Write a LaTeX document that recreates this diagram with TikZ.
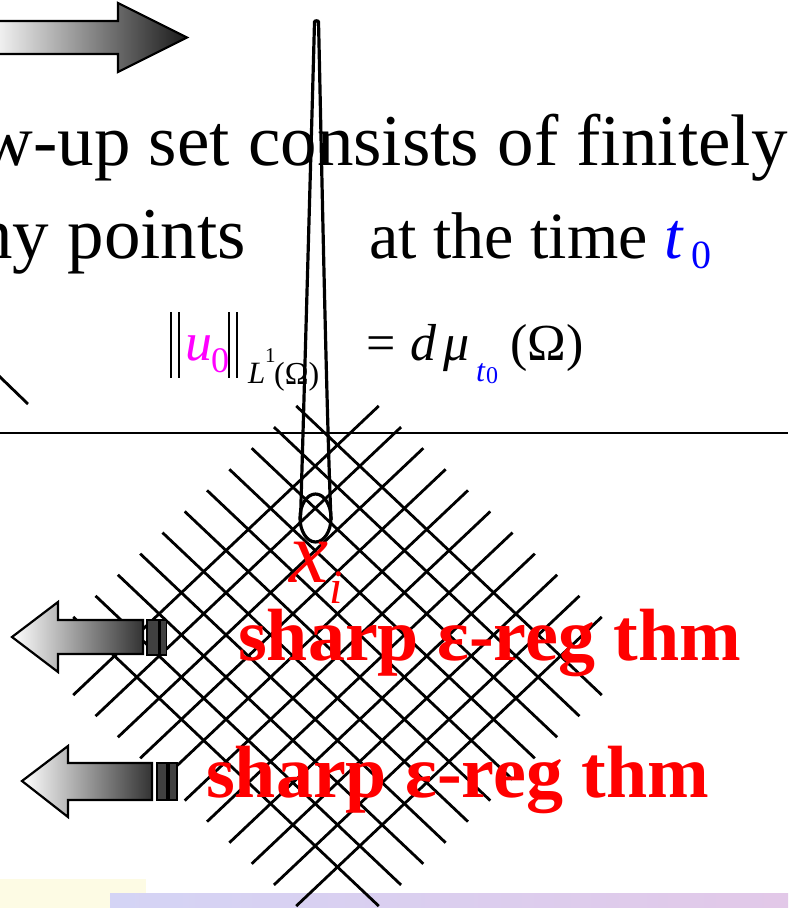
\documentclass[tikz,border=0pt]{standalone}
\usepackage{fontspec}
\setmainfont{Liberation Serif}
\definecolor{magentaU}{RGB}{255,0,255}
\definecolor{blueT}{RGB}{0,0,255}
\definecolor{redX}{RGB}{255,0,0}
\definecolor{darkrect}{RGB}{64,64,64}
\definecolor{stripY}{RGB}{253,251,228}
\definecolor{stripA}{RGB}{212,212,245}
\definecolor{stripB}{RGB}{226,200,232}
\begin{document}
\begin{tikzpicture}[x=1pt,y=-1pt,
  gridline/.style={line width=2.8pt},
  outl/.style={draw=black,line width=2.2pt},
  txt/.style={inner sep=0pt,anchor=base west},
  darkbox/.style={fill=darkrect,draw=black,line width=1.8pt},
]
\useasboundingbox (0,0) rectangle (788,908);
\clip (0,0) rectangle (788,908);
% bottom strip
\fill[stripY] (0,879) rectangle (146,908);
\shade[left color=stripA,right color=stripB] (110,893) rectangle (788,908);
% grid
\foreach \k in {-5,...,5}{
  \draw[gridline] ({337.5+22.3*(\k-6.85)},{656+21.1*(-6.85-\k)}) -- ({337.5+22.3*(\k+6.85)},{656+21.1*(6.85-\k)});
  \draw[gridline] ({337.5+22.3*(\k-6.85)},{656+21.1*(\k+6.85)}) -- ({337.5+22.3*(\k+6.85)},{656+21.1*(\k-6.85)});
}
% horizontal line and short diagonal
\draw[line width=2.8pt] (0,433) -- (788,433);
\draw[line width=2.8pt] (-2,375) -- (28,404);
% spike
\draw[line width=3.2pt] (300.5,520) .. controls (304,400) and (313,80) .. (314.5,22)
  to[out=90,in=90] (318.5,22) .. controls (320,80) and (326,400) .. (331,520);
\draw[line width=3.2pt] (315.5,518) ellipse (15.5 and 24);
% top arrow
\shadedraw[left color=black!4,right color=black!90,outl]
  (-5,21) -- (118,21) -- (118,3) -- (187,37.5) -- (118,72) -- (118,54) -- (-5,54) -- cycle;
% left arrows
\shadedraw[left color=white,right color=black!80,outl]
  (12,637) -- (58,602) -- (58,620) -- (143,620) -- (143,654) -- (58,654) -- (58,672) -- cycle;
\draw[darkbox] (147,620) rectangle (159,655);
\draw[darkbox] (160,620) rectangle (166.5,655);
\shadedraw[left color=white,right color=black!80,outl]
  (22,781) -- (68,746) -- (68,763) -- (152,763) -- (152,800) -- (68,800) -- (68,817) -- cycle;
\draw[darkbox] (157,763) rectangle (167,800);
\draw[darkbox] (169,763) rectangle (177,800);
% title text
\node[txt,font=\fontsize{73}{80}\selectfont] (l1) at (-113,165) {blow-up set consists of finitely};
\node[txt,font=\fontsize{73}{80}\selectfont] (l2) at (-113,258) {many points};
\node[txt,font=\fontsize{66}{70}\selectfont] (l3) at (369,258) {at the time \textcolor{blueT}{\textit{t}}};
\node[txt,font=\fontsize{40}{44}\selectfont,text=blueT] (l3s) at (691,268) {0};
% formula
\draw[line width=1.8pt] (171,312) -- (171,378);
\draw[line width=1.8pt] (179,312) -- (179,378);
\draw[line width=1.8pt] (229,312) -- (229,378);
\draw[line width=1.8pt] (237,312) -- (237,378);
\node[txt,text=magentaU,font=\fontsize{54}{56}\selectfont\itshape] (u) at (185,360) {u};
\node[txt,text=magentaU,font=\fontsize{36}{40}\selectfont] (u0) at (211,372) {0};
\node[txt,font=\fontsize{31}{32}\selectfont\itshape] (L) at (248,383) {L};
\node[txt,font=\fontsize{21}{22}\selectfont] (L1) at (265,362) {1};
\node[txt,font=\fontsize{32}{34}\selectfont] (Om1) at (274,384) {(Ω)};
\node[txt,font=\fontsize{52}{54}\selectfont] (eq) at (366,360) {=};
\node[txt,font=\fontsize{52}{54}\selectfont\itshape] (d) at (410,360) {d};
\node[txt,font=\fontsize{52}{54}\selectfont\itshape] (mu) at (443,360) {μ};
\node[txt,text=blueT,font=\fontsize{32}{34}\selectfont\itshape] (t) at (476,381) {t};
\node[txt,text=blueT,font=\fontsize{24}{26}\selectfont] (t0) at (486,383) {0};
\node[txt,font=\fontsize{52}{54}\selectfont] (Om2) at (510,360) {(Ω)};
% x_i
\node[txt,text=redX,font=\fontsize{88}{88}\selectfont\itshape] (x) at (289,582) {x};
\node[txt,text=redX,font=\fontsize{48}{48}\selectfont\itshape] (xi) at (329,603) {i};
% red labels
\node[txt,text=redX,font=\fontsize{74}{74}\selectfont\bfseries] (s1) at (238,660) {sharp ε-reg thm};
\node[txt,text=redX,font=\fontsize{74}{74}\selectfont\bfseries] (s2) at (206,797) {sharp ε-reg thm};
\end{tikzpicture}
\end{document}
